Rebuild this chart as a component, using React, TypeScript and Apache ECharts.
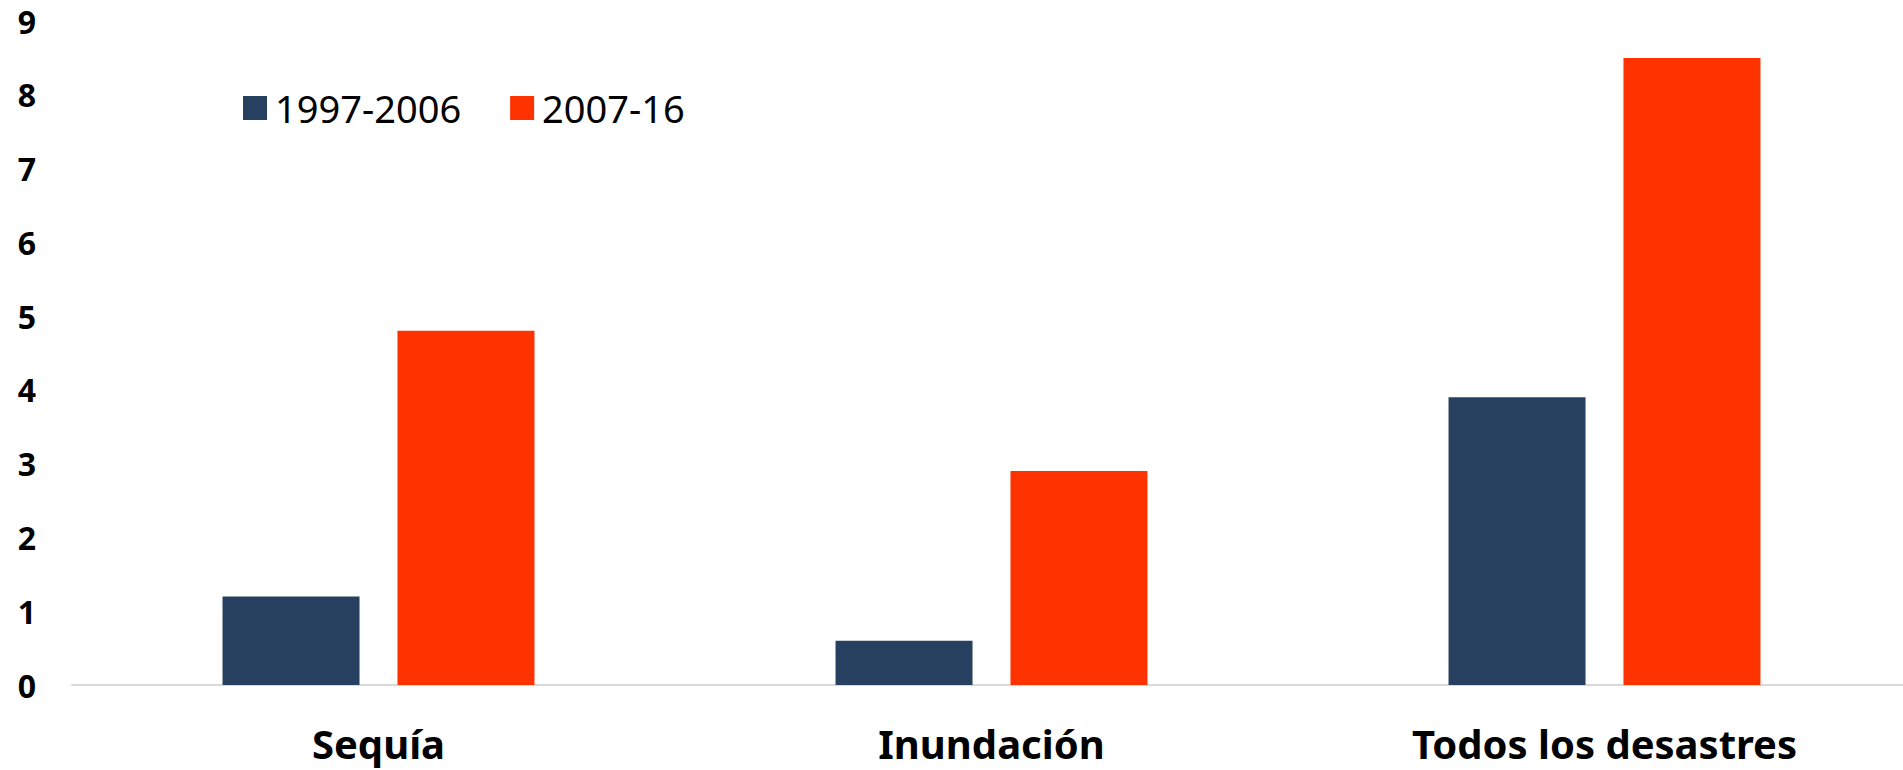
import React, { useEffect, useRef } from "react";
import * as echarts from "echarts";

const categories = ["Sequía", "Inundación", "Todos los desastres"];
const seriesNames = ["1997-2006", "2007-16"];
const values1997 = [1.2, 0.6, 3.9];
const values2007 = [4.8, 2.9, 8.5];
const colors = ["#27405F", "#FF3300"];

export default function App() {
  const ref = useRef<HTMLDivElement>(null);
  useEffect(() => {
    if (!ref.current) return;
    const chart = echarts.init(ref.current, undefined, { renderer: "svg" });
    chart.setOption({
      animation: false,
      backgroundColor: "#ffffff",
      grid: {
        left: 72,
        width: 1839,
        top: 21,
        bottom: 85,
        containLabel: false,
        outerBoundsMode: "none",
      },
      legend: {
        left: 243,
        top: 89,
        padding: 0,
        itemWidth: 24,
        itemHeight: 24,
        itemGap: 49,
        icon: "rect",
        selectedMode: false,
        textStyle: {
          fontFamily: "Noto Sans",
          fontSize: 38,
          color: "#000",
          padding: [0, 0, 0, 3],
        },
        data: seriesNames,
      },
      xAxis: {
        type: "category",
        data: categories,
        axisLine: { show: true, lineStyle: { color: "#d9d9d9", width: 2 } },
        axisTick: { show: false },
        axisLabel: {
          margin: 38,
          fontFamily: "Noto Sans",
          fontWeight: "bold",
          fontSize: 40,
          color: "#000",
        },
      },
      yAxis: {
        type: "value",
        min: 0,
        max: 9,
        interval: 1,
        splitLine: { show: false },
        axisLine: { show: false },
        axisTick: { show: false },
        axisLabel: {
          margin: 36,
          fontFamily: "Noto Sans",
          fontWeight: "bold",
          fontSize: 32,
          color: "#000",
        },
      },
      series: [
        {
          name: seriesNames[0],
          type: "bar",
          data: values1997,
          barWidth: 137,
          barGap: "27.7%",
          itemStyle: { color: colors[0] },
        },
        {
          name: seriesNames[1],
          type: "bar",
          data: values2007,
          barWidth: 137,
          barGap: "27.7%",
          itemStyle: { color: colors[1] },
        },
      ],
    });
    return () => chart.dispose();
  }, []);
  return (
    <div
      ref={ref}
      style={{ position: "absolute", left: 0, top: 0, width: 1903, height: 770 }}
    />
  );
}
